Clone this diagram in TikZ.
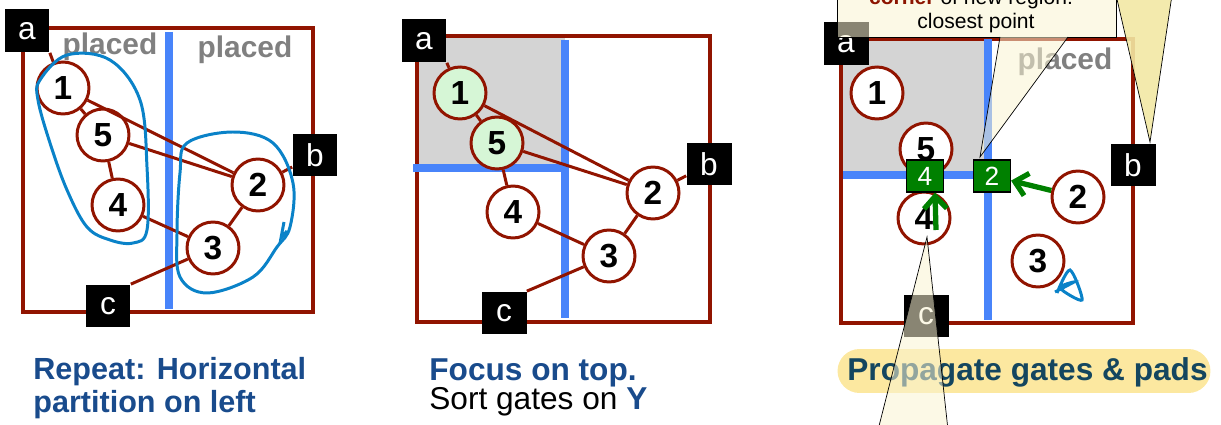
\documentclass[tikz,border=0pt]{standalone}
\usepackage{fontspec}
\setmainfont{Liberation Sans}
\usetikzlibrary{arrows.meta,positioning}
\definecolor{boxred}{RGB}{145,20,0}
\definecolor{cutblue}{RGB}{72,132,250}
\definecolor{lassoblue}{RGB}{10,130,200}
\definecolor{capblue}{RGB}{25,75,140}
\definecolor{captext}{RGB}{20,70,95}
\definecolor{padgreen}{RGB}{0,128,0}
\definecolor{seedgreen}{RGB}{214,246,214}
\definecolor{donegray}{RGB}{212,212,212}
\definecolor{callcream}{RGB}{250,244,210}
\definecolor{callyellow}{RGB}{242,232,164}
\definecolor{hiyellow}{RGB}{252,232,160}
\definecolor{tipred}{RGB}{140,20,0}

\begin{document}
\begin{tikzpicture}[x=0.02cm, y=-0.02cm,
  gate/.style={circle, draw=boxred, line width=1.7pt, fill=white, minimum size=1.04cm,
    inner sep=0pt, font=\fontsize{19}{19}\selectfont\bfseries},
  pin/.style={fill=black, text=white, minimum width=0.9cm, minimum height=0.86cm,
    inner sep=0pt, font=\fontsize{18}{18}\selectfont},
  slot/.style={fill=padgreen, draw=black, line width=0.6pt, text=white, minimum width=0.74cm,
    minimum height=0.64cm, inner sep=0pt, font=\fontsize{15}{15}\selectfont},
  net/.style={draw=boxred, line width=1.7pt},
  region/.style={draw=boxred, line width=2.3pt},
  cut/.style={draw=cutblue, line width=5pt},
  lasso/.style={draw=lassoblue, line width=1.7pt},
  push/.style={draw=padgreen, line width=3pt, -{Straight Barb[length=7pt,width=13pt]}},
  placed/.style={text=gray, font=\fontsize{17}{17}\selectfont\bfseries},
  caption/.style={anchor=base west, inner sep=0pt, font=\fontsize{18}{18}\selectfont},
  tip/.style={fill=callcream, fill opacity=0.55, draw=black, line width=0.4pt}]
\useasboundingbox (0,0) rectangle (1221,425);
\clip (0,0) rectangle (1221,425);

% ---------------- left: horizontal partition
\draw[region] (23,28) rectangle (313,312);
\draw[cut] (169,32) -- (169,309);
\node[placed] (lp1) at (110,47) {placed};
\node[placed] (lp2) at (245,50) {placed};

\node[gate] (l1) at (63,88) {1};
\node[gate] (l5) at (103,135) {5};
\node[gate] (l4) at (118,205) {4};
\node[gate] (l2) at (258,185) {2};
\node[gate] (l3) at (213,248) {3};
\node[pin] (la) at (27,31) {a};
\node[pin] (lb) at (315,155) {b};
\node[pin] (lc) at (108,306) {c};

\draw[net] (la.south east) -- (l1);
\draw[net] (l1) -- (l5);
\draw[net] (l1) -- (l2);
\draw[net] (l5) -- (l2);
\draw[net] (l5) -- (l4);
\draw[net] (l4) -- (l3);
\draw[net] (l2) -- (l3);
\draw[net] (lb) -- (l2);
\draw[net] (lc.north east) -- (l3);

% hand drawn groups
\draw[lasso] plot[smooth cycle, tension=0.6] coordinates {(40,80) (67,55) (110,60) (140,100)
  (147,167) (147,230) (133,243) (110,240) (87,227) (67,190) (50,143) (38,100)};
\draw[lasso] plot[smooth cycle, tension=0.6] coordinates {(187,143) (233,132) (273,143)
  (293,183) (290,227) (277,247) (253,277) (207,293) (180,277) (177,233) (180,173)};
\draw[lasso] (284,222) -- (281,238) -- (287,231);

\node[caption, text=capblue, font=\fontsize{17.4}{17.4}\selectfont\bfseries] (cap1a) at (33,380) {Repeat: Horizontal};
\node[caption, text=capblue, font=\fontsize{17.4}{17.4}\selectfont\bfseries] (cap1b) at (33,413) {partition on left};

% ---------------- middle: focus on top
\fill[donegray] (417,36) rectangle (565,168);
\draw[region] (417,36) rectangle (710,322);
\draw[cut] (565,40) -- (565,318);
\draw[cut] (413,168) -- (565,168);

\node[gate, fill=seedgreen] (m1) at (460,93) {1};
\node[gate, fill=seedgreen] (m5) at (497,143) {5};
\node[gate] (m4) at (513,212) {4};
\node[gate] (m2) at (653,193) {2};
\node[gate] (m3) at (609,256) {3};
\node[pin] (ma) at (424,41) {a};
\node[pin] (mb) at (709,164) {b};
\node[pin] (mc) at (504,313) {c};

\draw[net] (ma.south east) -- (m1);
\draw[net] (m1) -- (m5);
\draw[net] (m1) -- (m2);
\draw[net] (m5) -- (m2);
\draw[net] (m5) -- (m4);
\draw[net] (m4) -- (m3);
\draw[net] (m2) -- (m3);
\draw[net] (mb) -- (m2);
\draw[net] (mc.north east) -- (m3);

\node[caption, text=capblue, font=\fontsize{18}{18}\selectfont\bfseries] (cap2a) at (429,381) {Focus on top.};
\node[caption] (cap2b) at (429,410) {Sort gates on \textcolor{capblue}{\bfseries Y}};

% ---------------- right: propagate
\fill[donegray] (841,39) rectangle (988,175);
\draw[region] (841,39) rectangle (1133,323);
\draw[cut] (988,39) -- (988,320);
\draw[cut] (843,175) -- (988,175);
\node[placed] (rp) at (1065,62) {placed};

\node[gate] (r1) at (877,93) {1};
\node[gate] (r5) at (926,149) {5};
\node[gate] (r4) at (924,218) {4};
\node[gate] (r2) at (1078,197) {2};
\node[gate] (r3) at (1038,261) {3};
\node[pin] (ra) at (846,44) {a};
\node[pin] (rb) at (1133,165) {b};
\node[pin] (rc) at (926,316) {c};

\node[slot] (s4) at (925,176) {4};
\node[slot] (s2) at (992,176) {2};
\draw[push] (r2) -- (s2);
\draw[push] ([xshift=0.24cm,yshift=-0.24cm]r4.center) -- ([xshift=0.2cm]s4.south);

\draw[lasso] plot[smooth, tension=0.5] coordinates {(1057,293) (1070,270) (1082,300)
  (1060,288) (1074,282) (1055,292)};

\node[fill=hiyellow, rounded corners=0.44cm, minimum width=7.46cm, minimum height=0.88cm,
  inner sep=0pt] (hl) at (1024,371) {};
\node[caption, text=captext, font=\fontsize{18}{18}\selectfont\bfseries] (cap3) at (847,381) {Propagate gates \& pads};

% callouts
\draw[tip] (837,-40) rectangle (1116,37);
\node[anchor=base, font=\fontsize{12}{12}\selectfont] (tip1) at (971,5)
  {\textcolor{tipred}{\bfseries corner} of new region:};
\node[anchor=base, font=\fontsize{12}{12}\selectfont] (tip2) at (976,29) {closest point};
\fill[callcream, fill opacity=0.55] (1000,37) -- (980,157) -- (1068,37) -- cycle;
\draw[line width=0.4pt] (1000,37) -- (980,157) -- (1068,37);
\fill[callyellow, fill opacity=0.9] (1116,-5) -- (1150,142) -- (1172,-5) -- cycle;
\draw[line width=0.4pt] (1116,-5) -- (1150,142) -- (1172,-5);
\fill[callcream, fill opacity=0.55] (927,237) -- (878,430) -- (948,430) -- cycle;
\draw[line width=0.4pt] (878,430) -- (927,237) -- (948,430);
\end{tikzpicture}
\end{document}
